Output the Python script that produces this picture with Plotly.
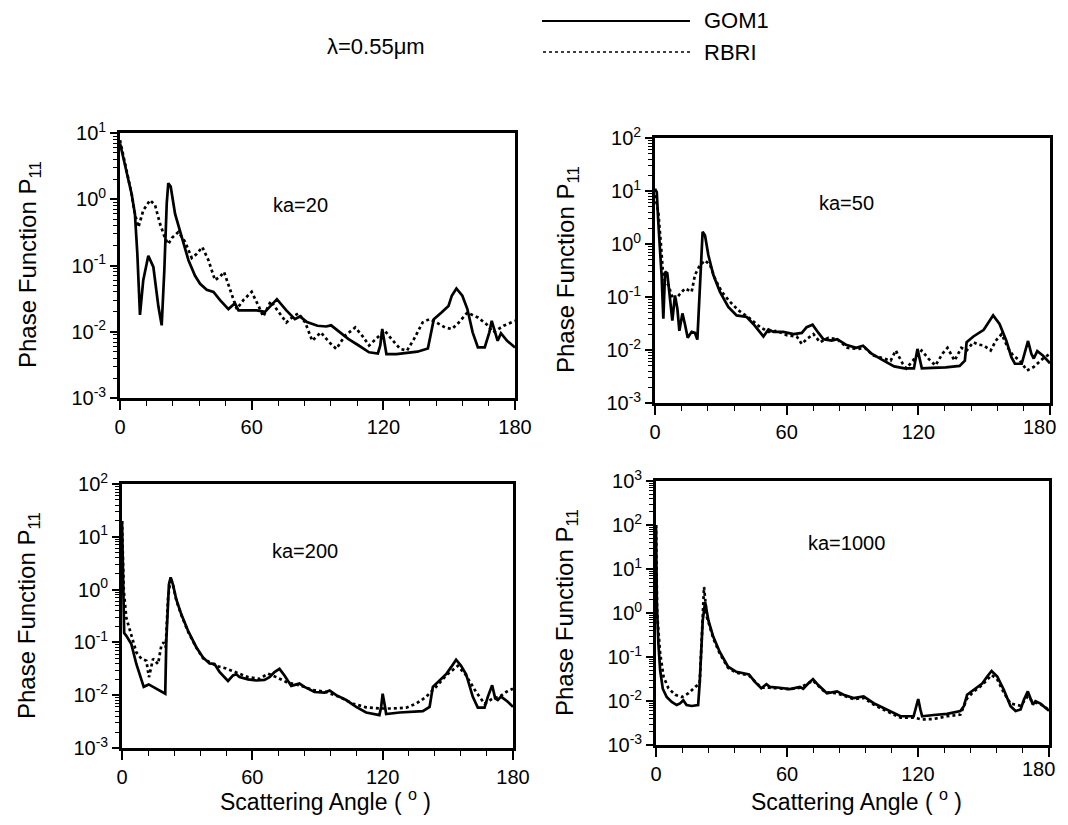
import plotly.graph_objects as go

# ---------------- data ----------------
ka20_gom1_angle = [0, 2.3, 5.3, 6.8, 7.9, 9.1, 10.6, 12.9, 15.2, 17.5, 19.0, 20.2, 21.3, 22.0, 23.1, 25.1, 28.1, 31.2, 34.2, 36.5, 39.5, 42.6, 45.6, 49.4, 52.4, 54.0, 57.8, 62.3, 66.1, 68.4, 71.5, 75.8, 79.7, 82.0, 85.2, 90.0, 93.9, 96.2, 100.0, 104.0, 108.8, 113.5, 117.5, 118.6, 119.5, 120.3, 121.4, 126.0, 131.6, 135.5, 140.3, 141.8, 143.0, 146.5, 149.7, 151.2, 153.3, 156.0, 158.3, 160.7, 163.1, 166.2, 168.3, 169.4, 171.0, 172.1, 173.6, 176.4, 180]
ka20_gom1_p11 = [7.0, 3.1, 1.2, 0.6, 0.15, 0.018, 0.06, 0.14, 0.095, 0.024, 0.0125, 0.085, 0.87, 1.75, 1.55, 0.6, 0.27, 0.12, 0.07, 0.053, 0.043, 0.04, 0.03, 0.022, 0.027, 0.021, 0.021, 0.021, 0.02, 0.024, 0.031, 0.021, 0.0155, 0.017, 0.014, 0.0123, 0.012, 0.0125, 0.0098, 0.0078, 0.0062, 0.0049, 0.0047, 0.0062, 0.011, 0.0078, 0.0046, 0.0046, 0.0048, 0.005, 0.0056, 0.0098, 0.0155, 0.0195, 0.0245, 0.035, 0.045, 0.035, 0.022, 0.0098, 0.0058, 0.0058, 0.0098, 0.0146, 0.0098, 0.0073, 0.0095, 0.0073, 0.0058]

ka20_rbri_angle = [0, 3.0, 5.3, 6.8, 8.4, 10.6, 13.7, 16.0, 18.2, 20.5, 22.0, 23.6, 26.6, 29.6, 32.7, 35.0, 37.5, 40.3, 43.3, 45.6, 47.4, 50.2, 53.2, 56.2, 60.0, 63.0, 65.3, 68.7, 72.6, 75.8, 78.9, 81.3, 84.4, 87.6, 91.5, 95.4, 98.6, 102.5, 107.2, 110.4, 113.5, 116.7, 120.6, 123.7, 127.7, 130.8, 134.0, 137.9, 141.0, 144.2, 148.1, 151.3, 154.4, 158.3, 163.1, 167.0, 170.1, 174.8, 180]
ka20_rbri_p11 = [7.8, 2.75, 1.2, 0.6, 0.38, 0.68, 0.97, 0.81, 0.43, 0.26, 0.21, 0.26, 0.32, 0.23, 0.13, 0.15, 0.19, 0.12, 0.06, 0.068, 0.08, 0.043, 0.022, 0.03, 0.04, 0.025, 0.017, 0.029, 0.0195, 0.0138, 0.017, 0.019, 0.0138, 0.0073, 0.0098, 0.0069, 0.0055, 0.0087, 0.0116, 0.0087, 0.0062, 0.0078, 0.0104, 0.0078, 0.0055, 0.0052, 0.0078, 0.0138, 0.0155, 0.0138, 0.0116, 0.011, 0.0138, 0.0195, 0.0164, 0.013, 0.0098, 0.0123, 0.0146]

ka50_gom1_angle = [0, 0.8, 1.5, 2.3, 3.0, 3.8, 4.6, 5.6, 6.8, 7.9, 9.1, 10.2, 11.1, 12.5, 13.7, 14.9, 16.7, 18.2, 19.3, 20.5, 21.7, 22.8, 24.3, 26.6, 29.6, 33.4, 37.2, 41.8, 44.8, 49.4, 51.7, 54.0, 58.5, 63.1, 66.9, 69.1, 71.8, 74.5, 76.7, 80.5, 83.0, 87.0, 91.7, 94.8, 98.7, 104.2, 109.0, 113.7, 118.0, 119.6, 120.8, 121.6, 126.3, 132.5, 138.8, 141.2, 142.0, 145.1, 149.8, 152.2, 154.1, 157.0, 160.1, 162.4, 164.0, 167.1, 168.7, 170.0, 171.5, 172.6, 174.2, 176.6, 180]
ka50_gom1_p11 = [11, 9.5, 2.6, 0.7, 0.26, 0.039, 0.3, 0.28, 0.081, 0.036, 0.107, 0.06, 0.023, 0.049, 0.03, 0.017, 0.022, 0.021, 0.0157, 0.126, 1.7, 1.45, 0.62, 0.26, 0.125, 0.065, 0.045, 0.042, 0.031, 0.018, 0.0245, 0.022, 0.022, 0.02, 0.021, 0.027, 0.030, 0.021, 0.016, 0.015, 0.016, 0.0126, 0.011, 0.012, 0.0085, 0.0063, 0.0049, 0.0045, 0.0045, 0.0105, 0.0063, 0.0045, 0.0046, 0.0047, 0.005, 0.0063, 0.014, 0.018, 0.024, 0.035, 0.045, 0.031, 0.015, 0.0073, 0.0055, 0.0055, 0.0098, 0.0148, 0.0085, 0.0069, 0.0095, 0.008, 0.0056]

ka50_rbri_angle = [0, 1.5, 2.6, 3.5, 4.6, 6.1, 7.6, 9.1, 11.4, 13.7, 16.7, 18.2, 20.5, 22.8, 25.1, 27.4, 30.4, 34.2, 38.0, 43.3, 47.9, 51.7, 55.5, 60.0, 64.6, 66.9, 69.1, 72.2, 75.2, 79.0, 83.0, 87.7, 92.5, 95.6, 99.5, 104.2, 107.4, 109.7, 112.9, 114.5, 117.6, 121.5, 124.7, 127.8, 131.0, 133.3, 136.5, 139.6, 142.0, 145.1, 147.5, 149.8, 153.0, 155.3, 158.0, 160.8, 163.2, 166.3, 169.5, 172.6, 176.6, 180]
ka50_rbri_p11 = [8.3, 4.0, 1.1, 0.34, 0.19, 0.17, 0.107, 0.087, 0.115, 0.145, 0.125, 0.26, 0.4, 0.49, 0.4, 0.22, 0.125, 0.081, 0.056, 0.039, 0.027, 0.022, 0.023, 0.019, 0.018, 0.013, 0.016, 0.02, 0.014, 0.017, 0.016, 0.011, 0.0104, 0.011, 0.0079, 0.0068, 0.0063, 0.0098, 0.0055, 0.0045, 0.0063, 0.0098, 0.0068, 0.0051, 0.0085, 0.011, 0.0063, 0.011, 0.0098, 0.014, 0.0126, 0.0122, 0.0098, 0.015, 0.02, 0.011, 0.0079, 0.0063, 0.0041, 0.0048, 0.0068, 0.0085]

ka200_gom1_angle = [0, 0.3, 0.6, 1.0, 2.0, 4.3, 6.6, 8.9, 10.0, 12.3, 15.8, 19.9, 20.4, 21.6, 22.4, 23.5, 25.0, 27.3, 30.4, 34.2, 37.3, 40.3, 42.6, 44.9, 48.8, 51.1, 52.6, 54.1, 58.0, 61.8, 65.6, 67.9, 70.2, 72.5, 74.8, 77.9, 81.7, 84.0, 88.6, 93.3, 95.6, 98.6, 103.2, 107.8, 112.4, 118.5, 119.3, 120.0, 121.1, 121.6, 127.8, 133.9, 138.5, 141.6, 143.1, 146.2, 149.2, 151.5, 153.8, 156.1, 158.4, 161.5, 163.8, 166.9, 168.4, 170.4, 171.8, 173.0, 174.5, 177.6, 180]
ka200_gom1_p11 = [20, 3.0, 0.5, 0.15, 0.133, 0.093, 0.039, 0.019, 0.0144, 0.016, 0.0133, 0.0107, 0.107, 1.25, 1.7, 1.23, 0.65, 0.34, 0.166, 0.081, 0.052, 0.04, 0.039, 0.0275, 0.0186, 0.0237, 0.025, 0.022, 0.02, 0.019, 0.0195, 0.022, 0.0275, 0.0316, 0.0237, 0.015, 0.0166, 0.0144, 0.0115, 0.0112, 0.0123, 0.01, 0.0081, 0.006, 0.0047, 0.0042, 0.006, 0.0107, 0.006, 0.0044, 0.0047, 0.0049, 0.005, 0.006, 0.0144, 0.019, 0.025, 0.034, 0.047, 0.036, 0.025, 0.0093, 0.0058, 0.0058, 0.0093, 0.0154, 0.0087, 0.0081, 0.0094, 0.0075, 0.006]

ka200_rbri_angle = [0, 0.4, 0.8, 2.0, 4.3, 6.6, 8.9, 11.2, 12.4, 14.3, 16.6, 18.1, 19.2, 20.1, 21.2, 22.4, 23.5, 25.0, 27.3, 30.4, 34.2, 37.3, 43.4, 48.0, 52.6, 58.0, 63.3, 67.2, 71.0, 75.6, 81.7, 87.9, 94.0, 100.1, 106.3, 112.4, 118.5, 124.7, 130.8, 135.4, 140.0, 144.6, 149.2, 154.6, 158.4, 163.0, 166.9, 170.7, 173.8, 176.8, 180]
ka200_rbri_p11 = [20, 4.0, 1.0, 0.29, 0.13, 0.065, 0.049, 0.045, 0.022, 0.049, 0.039, 0.087, 0.1, 0.081, 0.69, 1.65, 1.2, 0.63, 0.33, 0.16, 0.08, 0.05, 0.036, 0.032, 0.027, 0.022, 0.0204, 0.0256, 0.022, 0.0178, 0.0154, 0.0125, 0.0115, 0.0093, 0.0069, 0.0059, 0.0056, 0.0056, 0.0058, 0.0069, 0.0093, 0.0144, 0.0237, 0.036, 0.0237, 0.0115, 0.0069, 0.0087, 0.0093, 0.0115, 0.0133]

ka1000_gom1_angle = [0, 0.4, 1.1, 1.9, 3.1, 4.9, 7.2, 9.5, 11.0, 12.5, 14.0, 16.3, 19.3, 20.0, 21.4, 22.5, 24.0, 26.2, 29.2, 33.0, 36.8, 39.9, 42.6, 45.2, 48.2, 50.6, 52.1, 56.7, 61.3, 65.9, 67.4, 69.7, 71.9, 74.3, 78.3, 82.9, 85.9, 90.5, 95.1, 99.7, 104.3, 108.9, 112.0, 118.0, 119.2, 120.1, 121.1, 121.9, 127.2, 133.3, 139.4, 141.0, 142.5, 145.6, 149.4, 151.7, 153.7, 156.3, 159.3, 162.4, 164.7, 167.0, 168.5, 170.3, 171.6, 172.6, 173.8, 176.1, 180]
ka1000_gom1_p11 = [100, 1.6, 0.2, 0.05, 0.019, 0.0123, 0.0095, 0.0081, 0.0088, 0.0104, 0.0081, 0.0077, 0.0081, 0.025, 0.68, 1.78, 0.68, 0.29, 0.13, 0.06, 0.046, 0.043, 0.04, 0.0275, 0.0195, 0.024, 0.021, 0.02, 0.0186, 0.021, 0.019, 0.025, 0.0315, 0.023, 0.015, 0.0166, 0.0139, 0.0117, 0.0127, 0.0089, 0.0069, 0.0054, 0.0045, 0.0045, 0.0076, 0.0111, 0.0064, 0.0045, 0.0048, 0.0051, 0.0059, 0.0076, 0.0139, 0.018, 0.025, 0.036, 0.048, 0.036, 0.018, 0.0076, 0.0059, 0.0064, 0.0107, 0.0165, 0.0107, 0.0083, 0.0099, 0.0087, 0.006]

ka1000_rbri_angle = [0, 0.5, 1.9, 3.5, 5.7, 8.8, 11.9, 14.9, 18.0, 20.0, 21.0, 22.0, 23.3, 26.2, 29.2, 33.0, 36.8, 42.6, 48.2, 52.1, 61.3, 65.9, 71.9, 77.3, 82.9, 90.5, 95.1, 99.7, 104.3, 108.9, 112.0, 118.0, 121.9, 127.2, 133.3, 139.4, 141.0, 142.5, 145.6, 149.4, 153.7, 156.3, 159.3, 162.4, 164.7, 167.0, 170.3, 172.6, 176.1, 180]
ka1000_rbri_p11 = [100, 1.0, 0.12, 0.035, 0.0195, 0.0138, 0.0123, 0.015, 0.021, 0.025, 0.29, 3.9, 0.81, 0.27, 0.12, 0.057, 0.044, 0.038, 0.02, 0.02, 0.0185, 0.02, 0.029, 0.016, 0.015, 0.011, 0.0118, 0.0083, 0.0063, 0.005, 0.0042, 0.0042, 0.0038, 0.0039, 0.0045, 0.0049, 0.0076, 0.0115, 0.0165, 0.023, 0.039, 0.031, 0.0155, 0.0087, 0.0083, 0.0078, 0.0128, 0.0095, 0.0085, 0.0063]

panel_labels = ["ka=20", "ka=50", "ka=200", "ka=1000"]
series_names = ["GOM1", "RBRI"]
x_tick_values = [0, 60, 120, 180]
y_decades = [(-3, 1), (-3, 2), (-3, 2), (-3, 3)]

panels = [
    (ka20_gom1_angle, ka20_gom1_p11, ka20_rbri_angle, ka20_rbri_p11),
    (ka50_gom1_angle, ka50_gom1_p11, ka50_rbri_angle, ka50_rbri_p11),
    (ka200_gom1_angle, ka200_gom1_p11, ka200_rbri_angle, ka200_rbri_p11),
    (ka1000_gom1_angle, ka1000_gom1_p11, ka1000_rbri_angle, ka1000_rbri_p11),
]

# ---------------- layout geometry ----------------
PAGE_W, PAGE_H = 1068, 825
BODY = 8                      # default page margin around the figure div
W, H = PAGE_W - 2 * BODY, PAGE_H - 2 * BODY
FONT = "Liberation Sans, Arial, Helvetica, sans-serif"
TICK_SIZE = 20


def px(x):
    return (x - BODY) / W


def py(y):
    return 1 - (y - BODY) / H


# plot boxes in page pixels: (left, right, top, bottom)
boxes = [(120, 515, 133, 398), (655, 1050, 138, 403),
         (122, 513, 484, 748), (656, 1049, 481, 745)]
right_column = [False, True, False, True]

fig = go.Figure()
layout = dict(
    width=W, height=H, paper_bgcolor="white", plot_bgcolor="white",
    margin=dict(l=0, r=0, t=0, b=0, pad=0, autoexpand=False), showlegend=False,
    font=dict(family=FONT, color="black", size=18),
)

annotations = []
for i, (ga, gp, ra, rp) in enumerate(panels):
    n = i + 1
    xa = "x" if n == 1 else f"x{n}"
    ya = "y" if n == 1 else f"y{n}"
    fig.add_trace(go.Scatter(x=ga, y=gp, mode="lines", name=series_names[0],
                             line=dict(color="black", width=2.7),
                             xaxis=xa, yaxis=ya))
    fig.add_trace(go.Scatter(x=ra, y=rp, mode="lines", name=series_names[1],
                             line=dict(color="black", width=2.7, dash="dot"),
                             xaxis=xa, yaxis=ya))
    l, r, t, b = boxes[i]
    lo, hi = y_decades[i]
    yvals = [10.0 ** k for k in range(lo, hi + 1)]
    ytext = [f"10<sup>{k}</sup>" for k in range(lo, hi + 1)]
    xtext = [str(v) for v in x_tick_values]
    if right_column[i]:
        # the last label sits at the page edge: drawn below as a nudged annotation
        xtext[-1] = ""
        annotations.append(dict(
            text=str(x_tick_values[-1]), xref=xa, yref=f"{ya} domain",
            x=x_tick_values[-1], y=0, xanchor="right", yanchor="top",
            xshift=8, yshift=-11, showarrow=False,
            font=dict(size=TICK_SIZE, family=FONT, color="black")))
    layout[f"xaxis{'' if n == 1 else n}"] = dict(
        domain=[px(l), px(r)], anchor=ya, range=[0, 180], automargin=False,
        tickvals=x_tick_values, ticktext=xtext,
        ticklabeloverflow="allow",
        ticks="outside", ticklen=9, tickwidth=1.5, tickcolor="black",
        minor=dict(ticks="outside", dtick=12, tick0=0, ticklen=5, tickwidth=1.2,
                   tickcolor="black", showgrid=False),
        showline=True, linewidth=2.8, linecolor="black", mirror=True,
        showgrid=False, zeroline=False,
        tickfont=dict(size=TICK_SIZE, family=FONT, color="black"),
    )
    layout[f"yaxis{'' if n == 1 else n}"] = dict(
        domain=[py(b), py(t)], anchor=xa, type="log", range=[lo, hi],
        automargin=False, ticklabeloverflow="allow",
        tickvals=yvals, ticktext=ytext,
        ticks="outside", ticklen=7, tickwidth=1.5, tickcolor="black",
        minor=dict(ticks="outside", dtick="D1", ticklen=4, tickwidth=1,
                   tickcolor="black", showgrid=False),
        showline=True, linewidth=2.8, linecolor="black", mirror=True,
        showgrid=False, zeroline=False,
        tickfont=dict(size=TICK_SIZE, family=FONT, color="black"),
    )

# panel labels (domain-relative positions)
label_pos = [(0.458, 0.728), (0.486, 0.755), (0.468, 0.746), (0.486, 0.765)]
for i, txt in enumerate(panel_labels):
    n = i + 1
    xr = "x domain" if n == 1 else f"x{n} domain"
    yr = "y domain" if n == 1 else f"y{n} domain"
    annotations.append(dict(text=txt, xref=xr, yref=yr, x=label_pos[i][0], y=label_pos[i][1],
                            showarrow=False, xanchor="center", yanchor="middle",
                            font=dict(size=20, family=FONT, color="black")))

# y-axis titles
ytitle = "Phase Function P<sub>11</sub>"
for (xc, yc) in [(29, 265), (568, 270), (28, 616), (566, 613)]:
    annotations.append(dict(text=ytitle, xref="paper", yref="paper", x=px(xc), y=py(yc),
                            textangle=-90, showarrow=False, xanchor="center", yanchor="middle",
                            font=dict(size=24, family=FONT, color="black")))
# x-axis titles
xtitle = "Scattering Angle ( <sup>o</sup> )"
for (xc, yc) in [(325, 800), (856, 800)]:
    annotations.append(dict(text=xtitle, xref="paper", yref="paper", x=px(xc), y=py(yc),
                            showarrow=False, xanchor="center", yanchor="middle",
                            font=dict(size=23, family=FONT, color="black")))

# wavelength label and legend
annotations.append(dict(text="λ=0.55μm", xref="paper", yref="paper", x=px(376), y=py(47),
                        showarrow=False, xanchor="center", yanchor="middle",
                        font=dict(size=22, family=FONT, color="black")))
for name, yc in zip(series_names, [21, 52]):
    annotations.append(dict(text=name, xref="paper", yref="paper", x=px(702), y=py(yc),
                            showarrow=False, xanchor="left", yanchor="middle",
                            font=dict(size=22, family=FONT, color="black")))
shapes = [
    dict(type="line", xref="paper", yref="paper", x0=px(542), x1=px(690),
         y0=py(21), y1=py(21), line=dict(color="black", width=2)),
    dict(type="line", xref="paper", yref="paper", x0=px(543), x1=px(690),
         y0=py(52), y1=py(52), line=dict(color="black", width=1.5, dash="dot")),
]

layout["annotations"] = annotations
layout["shapes"] = shapes
fig.update_layout(**layout)
fig.write_html("out.html")
